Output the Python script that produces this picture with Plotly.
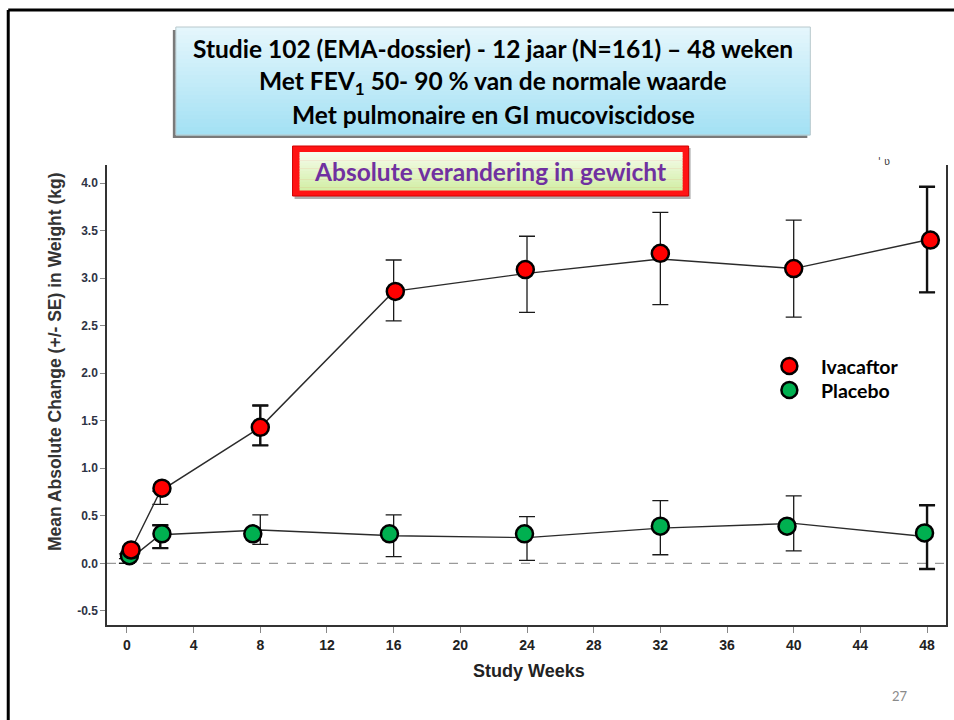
import plotly.graph_objects as go

# ---------------- data ----------------
weeks = [0, 2, 8, 16, 24, 32, 40, 48]
iva_mean = [0.05, 0.76, 1.43, 2.86, 3.05, 3.20, 3.10, 3.40]
iva_upper = [0.10, 0.76, 1.66, 3.19, 3.44, 3.69, 3.61, 3.96]
iva_lower = [0.00, 0.62, 1.24, 2.55, 2.64, 2.72, 2.59, 2.85]
pla_mean = [0.02, 0.30, 0.35, 0.29, 0.27, 0.37, 0.42, 0.28]
pla_upper = [0.05, 0.40, 0.51, 0.51, 0.49, 0.66, 0.71, 0.61]
pla_lower = [0.00, 0.16, 0.20, 0.07, 0.03, 0.09, 0.13, -0.06]

iva_marker_weeks = [0.25, 2.1, 8.0, 16.1, 23.9, 32.0, 40.0, 48.2]
iva_marker_vals = [0.14, 0.79, 1.43, 2.86, 3.09, 3.26, 3.10, 3.40]
pla_marker_weeks = [0.15, 2.1, 7.55, 15.75, 23.85, 32.0, 39.6, 47.85]
pla_marker_vals = [0.08, 0.31, 0.31, 0.31, 0.31, 0.39, 0.39, 0.32]

# weeks whose error bars are drawn heavier in the source picture
iva_bold_weeks = [8, 48]
pla_bold_weeks = [2, 48]

series_names = ["Ivacaftor", "Placebo"]
series_colors = ["#FF0000", "#00B050"]
x_ticks = list(range(0, 49, 4))
y_ticks = [-0.5, 0.0, 0.5, 1.0, 1.5, 2.0, 2.5, 3.0, 3.5, 4.0]

title_lines = [
    "Studie 102 (EMA-dossier) - 12 jaar (N=161) – 48 weken",
    "Met FEV<sub>1</sub> 50- 90 % van de normale waarde",
    "Met pulmonaire en GI mucoviscidose",
]
subtitle = "Absolute verandering in gewicht"

# ---------------- layout geometry (pixels) ----------------
W, H = 954, 720
L, R, T, B = 107, 948, 165, 625


def px(x):
    return (x - L) / (R - L)


def py(y):
    return (B - y) / (B - T)


def hex_mix(c1, c2, t):
    a = [int(c1[i:i + 2], 16) for i in (1, 3, 5)]
    b = [int(c2[i:i + 2], 16) for i in (1, 3, 5)]
    return "#" + "".join(f"{round(a[k] + (b[k] - a[k]) * t):02x}" for k in range(3))


fig = go.Figure()

# lines with error bars
for mean, up, lo, bold in [(iva_mean, iva_upper, iva_lower, iva_bold_weeks),
                           (pla_mean, pla_upper, pla_lower, pla_bold_weeks)]:
    fig.add_trace(go.Scatter(
        x=weeks, y=mean, mode="lines",
        line=dict(color="#2b2b2b", width=1.4),
        error_y=dict(type="data", symmetric=False,
                     array=[u - m for u, m in zip(up, mean)],
                     arrayminus=[m - l for m, l in zip(mean, lo)],
                     color="#1a1a1a", thickness=1.3, width=8),
        showlegend=False, hoverinfo="skip",
    ))
    idx = [weeks.index(w) for w in bold]
    fig.add_trace(go.Scatter(
        x=[weeks[i] for i in idx], y=[mean[i] for i in idx], mode="markers",
        marker=dict(size=1, opacity=0),
        error_y=dict(type="data", symmetric=False,
                     array=[up[i] - mean[i] for i in idx],
                     arrayminus=[mean[i] - lo[i] for i in idx],
                     color="#111111", thickness=2.4, width=8),
        showlegend=False, hoverinfo="skip",
    ))

# markers
for xs, ys, name, col in [(pla_marker_weeks, pla_marker_vals, series_names[1], series_colors[1]),
                          (iva_marker_weeks, iva_marker_vals, series_names[0], series_colors[0])]:
    fig.add_trace(go.Scatter(
        x=xs, y=ys, mode="markers", name=name,
        marker=dict(size=17, color=col, line=dict(color="black", width=2.5)),
        showlegend=False,
    ))

shapes = []
# zero dashed line
shapes.append(dict(type="line", xref="paper", yref="y", x0=0, x1=1, y0=0, y1=0,
                   line=dict(color="#9a9a9a", width=1.2, dash="dash"), layer="below"))

# slide border (top & left)
shapes.append(dict(type="line", xref="paper", yref="paper", x0=px(8), x1=px(960), y0=py(10), y1=py(10),
                   line=dict(color="black", width=3)))
shapes.append(dict(type="line", xref="paper", yref="paper", x0=px(8), x1=px(8), y0=py(10), y1=py(725),
                   line=dict(color="black", width=3)))

# title box: shadow + gradient
tx0, tx1, ty0, ty1 = 176, 812, 27, 135
shapes.append(dict(type="rect", xref="paper", yref="paper", x0=px(tx0 - 3), x1=px(tx1 - 3),
                   y0=py(ty0 + 3), y1=py(ty1 + 3), fillcolor="#7a7a7a", line=dict(width=0)))
n = 27
for i in range(n):
    y_a = ty0 + (ty1 - ty0) * i / n
    y_b = ty0 + (ty1 - ty0) * (i + 1) / n
    shapes.append(dict(type="rect", xref="paper", yref="paper", x0=px(tx0), x1=px(tx1),
                       y0=py(y_a), y1=py(y_b + 0.5),
                       fillcolor=hex_mix("#E4F6FC", "#A4E1F4", i / (n - 1)), line=dict(width=0)))
shapes.append(dict(type="rect", xref="paper", yref="paper", x0=px(tx0), x1=px(tx1),
                   y0=py(ty0), y1=py(ty1), line=dict(color="#b8c8cc", width=1)))

# subtitle box: red frame + green gradient
sx0, sx1, sy0, sy1 = 293, 690, 146, 196
shapes.append(dict(type="rect", xref="paper", yref="paper", x0=px(sx0 + 2), x1=px(sx1 + 2),
                   y0=py(sy0 + 2), y1=py(sy1 + 3), fillcolor="#b0b0b0", line=dict(width=0)))
shapes.append(dict(type="rect", xref="paper", yref="paper", x0=px(sx0), x1=px(sx1),
                   y0=py(sy0), y1=py(sy1), fillcolor="#FF1414", line=dict(color="#D00000", width=1)))
ix0, ix1, iy0, iy1 = 300, 684, 152, 190
m = 14
for i in range(m):
    y_a = iy0 + (iy1 - iy0) * i / m
    y_b = iy0 + (iy1 - iy0) * (i + 1) / m
    shapes.append(dict(type="rect", xref="paper", yref="paper", x0=px(ix0), x1=px(ix1),
                       y0=py(y_a), y1=py(y_b + 0.5),
                       fillcolor=hex_mix("#F6FCEC", "#D3EFA8", i / (m - 1)), line=dict(width=0)))

# legend markers
leg_y = [366, 390]
for yy, col in zip(leg_y, series_colors):
    r = 8
    shapes.append(dict(type="circle", xref="paper", yref="paper",
                       x0=px(791 - r), x1=px(791 + r), y0=py(yy + r), y1=py(yy - r),
                       fillcolor=col, line=dict(color="black", width=2.5)))

annotations = []
for txt, yy in zip(title_lines, [49, 83, 114]):
    annotations.append(dict(text=txt, xref="paper", yref="paper", x=px(494), y=py(yy),
                            xanchor="center", yanchor="middle", showarrow=False,
                            font=dict(family="Lato, Open Sans, sans-serif", size=24.5, color="black",
                                      weight="bold")))
annotations.append(dict(text=subtitle, xref="paper", yref="paper", x=px(491), y=py(171),
                        xanchor="center", yanchor="middle", showarrow=False,
                        font=dict(family="Lato, Open Sans, sans-serif", size=24.5, color="#7030A0",
                                  weight="bold")))
for txt, yy in zip(series_names, leg_y):
    annotations.append(dict(text=txt, xref="paper", yref="paper", x=px(821), y=py(yy),
                            xanchor="left", yanchor="middle", showarrow=False,
                            font=dict(family="Lato, Open Sans, sans-serif", size=19.5, color="black",
                                      weight="bold")))
annotations.append(dict(text="Mean Absolute Change (+/- SE) in Weight (kg)", xref="paper", yref="paper",
                        x=px(55), y=py(362), textangle=-90, xanchor="center", yanchor="middle",
                        showarrow=False,
                        font=dict(family="Liberation Sans, Arial, sans-serif", size=17.5,
                                  color="#333333", weight="bold")))
annotations.append(dict(text="Study Weeks", xref="paper", yref="paper", x=px(530), y=py(671),
                        xanchor="center", yanchor="middle", showarrow=False,
                        font=dict(family="Liberation Sans, Arial, sans-serif", size=18,
                                  color="#222222", weight="bold")))
annotations.append(dict(text="27", xref="paper", yref="paper", x=px(902), y=py(696),
                        xanchor="center", yanchor="middle", showarrow=False,
                        font=dict(family="Lato, sans-serif", size=13, color="#8a8a8a")))
annotations.append(dict(text="' ʋ", xref="paper", yref="paper", x=px(886), y=py(161),
                        xanchor="center", yanchor="middle", showarrow=False,
                        font=dict(family="DejaVu Sans, sans-serif", size=10, color="#333333")))

x_per_px = 48 / (929 - 127)
y_per_px = 4.0 / (563.3 - 183)

fig.update_layout(
    width=W, height=H,
    margin=dict(l=L, r=W - R, t=T, b=H - B, pad=0),
    paper_bgcolor="white", plot_bgcolor="white",
    shapes=shapes, annotations=annotations,
    showlegend=False,
    xaxis=dict(range=[-(127 - L) * x_per_px, 48 + (R - 929) * x_per_px],
               tickmode="array", tickvals=x_ticks, ticktext=[str(v) for v in x_ticks],
               showgrid=False, zeroline=False, showline=True, linecolor="#333333", linewidth=1.5,
               ticks="outside", ticklen=6, tickcolor="#888888", tickwidth=1.2,
               tickfont=dict(family="Liberation Sans Narrow, Liberation Sans, Arial, sans-serif",
                             size=14, color="#222222", weight="bold"),
               mirror=False),
    yaxis=dict(range=[-(B - 563.3) * y_per_px, 4.0 + (183 - T) * y_per_px],
               tickmode="array", tickvals=y_ticks, ticktext=[f"{v:.1f}" for v in y_ticks],
               showgrid=False, zeroline=False, showline=True, linecolor="#333333", linewidth=1.5,
               ticks="outside", ticklen=5, tickcolor="#888888", tickwidth=1.2,
               tickfont=dict(family="Liberation Sans, Arial, sans-serif", size=12,
                             color="#2e3344", weight="bold"),
               mirror=True),
)

fig.write_html("out.html", config={"displayModeBar": False},
               post_script="document.body.style.margin='0';document.body.style.overflow='hidden';")
